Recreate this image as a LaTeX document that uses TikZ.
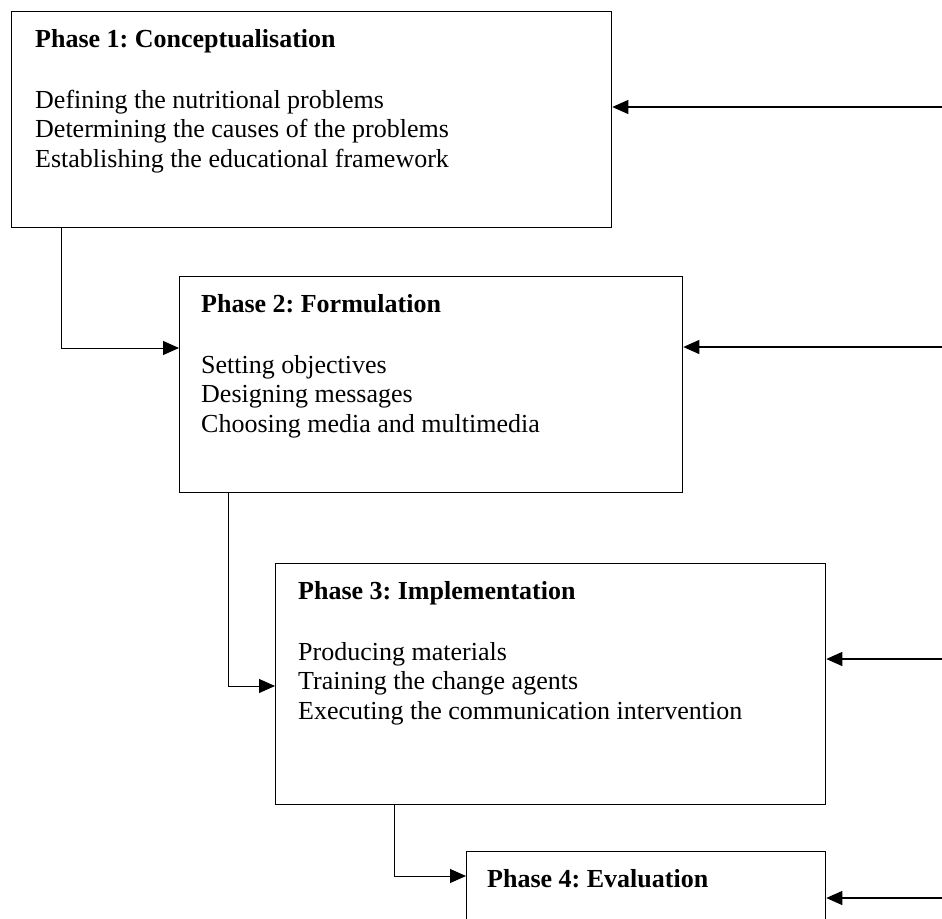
\documentclass[tikz,border=0pt]{standalone}
\usepackage{fontspec}
\setmainfont{Liberation Serif}
\usetikzlibrary{positioning, arrows.meta}
\frenchspacing

\begin{document}
\begin{tikzpicture}[x=1pt, y=-1pt,
    phase/.style={rectangle, draw, line width=1.3pt, anchor=north west, inner sep=0pt},
    body/.style={align=left, inner sep=0pt, font=\fontsize{26}{29.5}\selectfont},
    link/.style={line width=1pt, -{Triangle[length=16pt, width=14pt]}},
    feedback/.style={line width=1.3pt, -{Triangle[length=16pt, width=14pt]}}
]
    \useasboundingbox (0,0) rectangle (942,918);
    \clip (0,0) rectangle (942,918);

    % the four phases
    \node[phase, minimum width=600pt, minimum height=216pt] (p1) at (11,11) {};
    \node[phase, minimum width=503pt, minimum height=216pt] (p2) at (179,276) {};
    \node[phase, minimum width=550pt, minimum height=241pt] (p3) at (275,563) {};
    \node[phase, minimum width=359pt, minimum height=200pt] (p4) at (466,851) {};

    \node[body, below right=18pt and 24pt of p1.north west] (t1)
        {\textbf{Phase 1: Conceptualisation}\\[31.5pt]
         Defining the nutritional problems\\
         Determining the causes of the problems\\
         Establishing the educational framework};
    \node[body, below right=18pt and 22pt of p2.north west] (t2)
        {\textbf{Phase 2: Formulation}\\[31.5pt]
         Setting objectives\\
         Designing messages\\
         Choosing media and multimedia};
    \node[body, below right=18pt and 23pt of p3.north west] (t3)
        {\textbf{Phase 3: Implementation}\\[31.5pt]
         Producing materials\\
         Training the change agents\\
         Executing the communication intervention};
    \node[body, below right=18pt and 21pt of p4.north west] (t4)
        {\textbf{Phase 4: Evaluation}};

    % links between phases
    \draw[link] ([xshift=50pt]p1.south west) |- ([yshift=-72pt]p2.north west);
    \draw[link] ([xshift=49pt]p2.south west) |- ([yshift=-123pt]p3.north west);
    \draw[link] ([xshift=119pt]p3.south west) |- ([yshift=-25pt]p4.north west);

    % feedback from the right
    \coordinate (f1) at (942,107);
    \coordinate (f2) at (942,347);
    \coordinate (f3) at (942,659);
    \coordinate (f4) at (942,898);
    \foreach \i in {1,...,4}
        \draw[feedback] (f\i) -- (f\i -| p\i.east);
\end{tikzpicture}
\end{document}
